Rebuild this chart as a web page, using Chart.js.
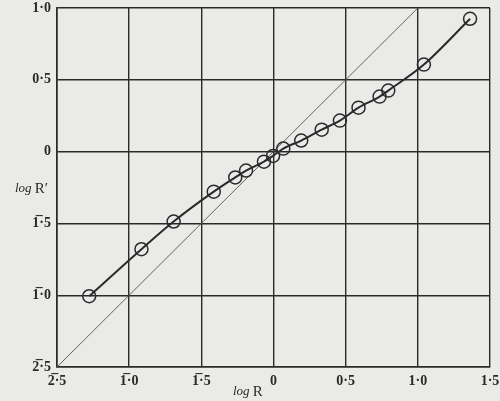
<!DOCTYPE html>
<html>
<head>
<meta charset="utf-8">
<script src="https://cdn.jsdelivr.net/npm/chart.js@4"></script>
<style>
  html, body { margin: 0; padding: 0; background: #eaeae8; }
</style>
</head>
<body>
<canvas id="chart" width="500" height="401"></canvas>
<script>
// log R vs log R' (measured points)
const logR = [-1.277, -0.915, -0.692, -0.414, -0.265, -0.19, -0.066, -0.003, 0.068, 0.192, 0.334, 0.46, 0.589, 0.735, 0.795, 1.042, 1.362];
const logRprime = [-1.007, -0.68, -0.487, -0.279, -0.18, -0.132, -0.07, -0.03, 0.021, 0.077, 0.153, 0.216, 0.306, 0.383, 0.425, 0.606, 0.925];

// reference line R' = R
const diagX = [-1.5, 1.0];
const diagY = [-1.5, 1.0];

// tick labels (bar = negative characteristic)
const xTickValues = [-1.5, -1.0, -0.5, 0, 0.5, 1.0, 1.5];
const xTickLabels = ["2\u0305\u00b75", "1\u0305\u00b70", "1\u0305\u00b75", "0", "0\u00b75", "1\u00b70", "1\u00b75"];
const yTickValues = [-1.5, -1.0, -0.5, 0, 0.5, 1.0];
const yTickLabels = ["2\u0305\u00b75", "1\u0305\u00b70", "1\u0305\u00b75", "0", "0\u00b75", "1\u00b70"];

const ink = "#2a2a2a";
const tickFont = { family: "Liberation Serif", size: 14, weight: "bold" };

function labelFor(values, labels, v) {
  const i = values.findIndex((t) => Math.abs(t - v) < 1e-6);
  return i >= 0 ? labels[i] : "";
}

const paper = {
  id: "paper",
  beforeDraw(chart) {
    const c = chart.ctx;
    c.save();
    c.fillStyle = "#eaeae8";
    c.fillRect(0, 0, chart.width, chart.height);
    c.restore();
  },
  afterDraw(chart) {
    const c = chart.ctx;
    const ys = chart.scales.y;
    c.save();
    c.fillStyle = ink;
    c.textBaseline = "middle";
    // y title: "log R′"
    let x = 15, y = ys.getPixelForValue(-0.26);
    c.font = "italic 13px 'Liberation Serif'";
    c.fillText("log", x, y);
    x += c.measureText("log ").width;
    c.font = "15px 'Liberation Serif'";
    c.fillText("R\u2032", x, y);
    // x title: "log R"
    c.font = "italic 13px 'Liberation Serif'";
    const w1 = c.measureText("log ").width;
    x = 233;
    y = 392;
    c.fillText("log", x, y);
    c.font = "15px 'Liberation Serif'";
    c.fillText("R", x + w1, y);
    c.restore();
  }
};

new Chart(document.getElementById("chart"), {
  type: "scatter",
  data: {
    datasets: [
      {
        label: "measured",
        data: logR.map((v, i) => ({ x: v, y: logRprime[i] })),
        showLine: true,
        cubicInterpolationMode: "monotone",
        borderColor: ink,
        borderWidth: 2,
        pointRadius: 6.5,
        pointBorderWidth: 1.5,
        pointBorderColor: ink,
        pointBackgroundColor: "rgba(0,0,0,0)",
      },
      {
        label: "R' = R",
        data: diagX.map((v, i) => ({ x: v, y: diagY[i] })),
        showLine: true,
        borderColor: "#555",
        borderWidth: 0.9,
        pointRadius: 0,
      },
    ],
  },
  options: {
    responsive: false,
    animation: false,
    layout: { padding: { top: 8, right: 10, left: 0, bottom: 0 } },
    plugins: {
      legend: { display: false },
      tooltip: { enabled: false },
    },
    scales: {
      x: {
        type: "linear",
        min: -1.5,
        max: 1.5,
        afterBuildTicks: (s) => { s.ticks = xTickValues.map((v) => ({ value: v })); },
        afterFit: (s) => { s.height = 34; s.paddingLeft = 0; s.paddingRight = 0; },
        ticks: {
          color: ink,
          font: tickFont,
          padding: 6,
          maxRotation: 0,
          callback: (v) => labelFor(xTickValues, xTickLabels, v),
        },
        grid: { color: ink, lineWidth: 1.4, drawTicks: false },
        border: { color: ink, width: 1.6 },
      },
      y: {
        type: "linear",
        min: -1.5,
        max: 1.0,
        afterBuildTicks: (s) => { s.ticks = yTickValues.map((v) => ({ value: v })); },
        afterFit: (s) => { s.width = 57; s.paddingTop = 0; s.paddingBottom = 0; },
        ticks: {
          color: ink,
          font: tickFont,
          padding: 6,
          callback: (v) => labelFor(yTickValues, yTickLabels, v),
        },
        grid: { color: ink, lineWidth: 1.4, drawTicks: false },
        border: { color: ink, width: 1.6 },
      },
    },
  },
  plugins: [paper],
});
</script>
</body>
</html>
